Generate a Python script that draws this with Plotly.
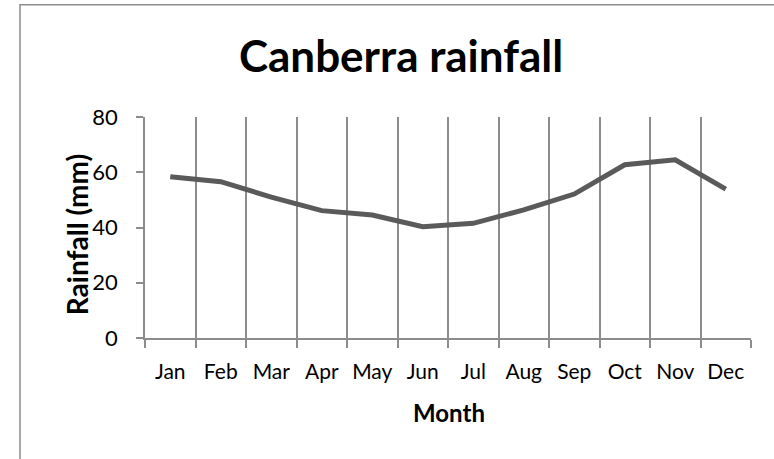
import plotly.graph_objects as go

months = ["Jan", "Feb", "Mar", "Apr", "May", "Jun", "Jul", "Aug", "Sep", "Oct", "Nov", "Dec"]
rainfall = [58.4, 56.6, 51.0, 46.1, 44.5, 40.3, 41.5, 46.4, 52.1, 62.7, 64.5, 53.9]
y_ticks = [0, 20, 40, 60, 80]

W, H = 774, 459
PX0, PX1, PY0, PY1 = 145, 751, 117, 337.7
L = PX0
T = PY0
R = W - PX1
B = H - PY1
pw = W - L - R
ph = H - T - B

FONT = "Lato"
GRID = "#8c8c8c"

fig = go.Figure()
fig.add_trace(go.Scatter(
    x=months, y=rainfall, mode="lines",
    line=dict(color="#5a5a5a", width=5),
    hoverinfo="skip", showlegend=False,
))

def px_x(p):
    return (p - PX0) / pw

def px_y(p):
    return (PY1 - p) / ph

fig.update_layout(
    width=W, height=H,
    margin=dict(l=L, r=R, t=T, b=B),
    paper_bgcolor="white", plot_bgcolor="white",
    font=dict(family=FONT, color="black", size=21),
    title=dict(
        text="<b>Canberra rainfall</b>",
        font=dict(family=FONT, size=44, color="black"),
        xref="container", x=401 / W, xanchor="center",
        yref="container", y=1 - 57 / H, yanchor="middle",
    ),
    xaxis=dict(
        type="category", tickson="boundaries",
        showgrid=True, gridcolor=GRID, gridwidth=1.5,
        showline=True, linecolor=GRID, linewidth=1.5,
        ticks="outside", ticklen=8, tickwidth=1.5, tickcolor=GRID,
        tickfont=dict(family=FONT, size=21, color="black"),
        tickangle=0,
        ticklabelstandoff=14,
        range=[-0.5, 11.5], fixedrange=True,
    ),
    yaxis=dict(
        range=[0, 80], tickvals=y_ticks,
        showgrid=False, zeroline=False,
        showline=True, linecolor=GRID, linewidth=1.5,
        ticks="outside", ticklen=7, tickwidth=1.5, tickcolor=GRID,
        tickfont=dict(family=FONT, size=22, color="black"),
        ticklabelstandoff=14,
        fixedrange=True,
    ),
    annotations=[
        dict(text="<b>Month</b>", xref="paper", yref="paper",
             x=px_x(448.5), y=px_y(412), xanchor="center", yanchor="middle",
             showarrow=False, font=dict(family=FONT, size=24, color="black")),
        dict(text="<b>Rainfall (mm)</b>", xref="paper", yref="paper",
             x=px_x(77), y=px_y(235), xanchor="center", yanchor="middle",
             textangle=-90, showarrow=False,
             font=dict(family=FONT, size=28, color="black")),
    ],
    shapes=[
        dict(type="rect", xref="paper", yref="paper",
             x0=px_x(20), x1=px_x(800), y0=px_y(5), y1=px_y(500),
             line=dict(color="#8c8c8c", width=1.5), fillcolor="rgba(0,0,0,0)",
             layer="below"),
    ],
)

fig.write_html("out.html", config={"displayModeBar": False},
               post_script="document.body.style.margin='0';")
